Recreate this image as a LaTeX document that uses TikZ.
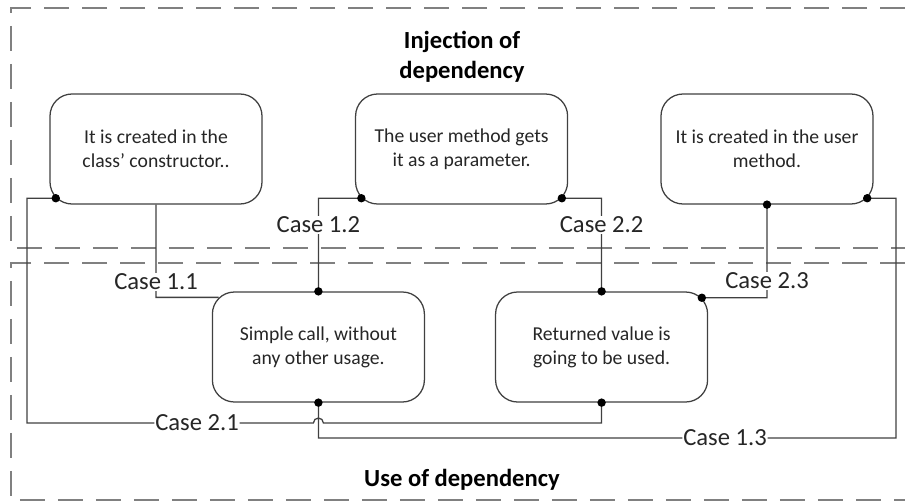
\documentclass[tikz,border=0pt]{standalone}
\usepackage{fontspec}
\setmainfont{Carlito}
\usepackage{tikz}
\usetikzlibrary{calc}
\usepackage{xcolor}
\definecolor{wire}{HTML}{404040}
\definecolor{frame}{HTML}{808080}
\definecolor{ink}{HTML}{262626}

\begin{document}
\begin{tikzpicture}[
    dot/.style={minimum size=6pt,inner sep=0pt,fill=black,circle,node contents={}},
    case/.style={rounded corners=0.55cm,draw=wire,line width=0.9pt,fill=white,minimum width=5.3cm,minimum height=2.75cm,align=center,text=ink,font=\fontsize{14}{17}\selectfont},
    caselabel/.style={inner sep=0.5pt,fill=white,text=ink,font=\fontsize{17.5}{21}\selectfont},
    zone/.style={draw=frame,line width=1.4pt,dash pattern=on 0.625cm off 0.325cm},
    title/.style={align=center,font=\fontsize{17.5}{21}\selectfont\bfseries}]
    \useasboundingbox (0, 0) rectangle (22.625, 12.575);

    % the two zones
    \draw[zone] (22.625, 12.375) -- (0.275, 12.375) -- (0.275, 6.375) -- (22.625, 6.375);
    \draw[zone] (22.625, 6) -- (0.275, 6) -- (0.275, 0.075) -- (22.625, 0.075);
    \node[title] (inj) at (11.55, 11.15) {Injection of\\dependency};
    \node[title] (use) at (11.55, 0.575) {Use of dependency};

    % injection cases
    \node[case] (ctor) at (3.9, 8.85) {It is created in the\\class’ constructor..};
    \node[case] (param) at (11.54, 8.85) {The user method gets\\it as a parameter.};
    \node[case] (local) at (19.175, 8.85) {It is created in the user\\method.};

    % use cases
    \node[case] (call) at (7.96, 3.9) {Simple call, without\\any other usage.};
    \node[case] (ret) at (15.04, 3.9) {Returned value is\\going to be used.};

    \coordinate (ctor_sw) at ($(ctor.south west) + (0.16, 0.16)$);
    \coordinate (param_sw) at ($(param.south west) + (0.16, 0.16)$);
    \coordinate (param_se) at ($(param.south east) + (-0.16, 0.16)$);
    \coordinate (local_se) at ($(local.south east) + (-0.16, 0.16)$);
    \coordinate (call_nw) at ($(call.north west) + (0.17, -0.15)$);
    \coordinate (ret_ne) at ($(ret.north east) + (-0.16, -0.16)$);
    \coordinate (bend21) at (0.675, 2.0);
    \coordinate (bend13) at (22.4, 1.625);

    \node[caselabel] (c11) at (3.9, 5.525) {Case 1.1};
    \node[caselabel] (c12) at (7.96, 6.95) {Case 1.2};
    \node[caselabel] (c13) at (18.125, 1.625) {Case 1.3};
    \node[caselabel] (c21) at (4.925, 2.0) {Case 2.1};
    \node[caselabel] (c22) at (15.04, 6.95) {Case 2.2};
    \node[caselabel] (c23) at (19.175, 5.55) {Case 2.3};

    \draw[wire, line width=0.9pt]
    (ctor.south) -- (c11) (c11) |- (call_nw)
    (param_sw) -| (c12) (c12) -- (call.north)
    (call.south) |- (c13) (c13) -- (bend13) |- (local_se)
    (ctor_sw) -| (bend21) -- (c21)
    (c21) -- ($(call.south |- c21) + (-0.125, 0)$) arc[start angle=180, end angle=0, radius=0.125] -| (ret.south)
    (param_se) -| (c22) (c22) -- (ret.north)
    (local.south) -- (c23) (c23) |- (ret_ne);

    \path (ctor_sw) node[dot] {} (param_sw) node[dot] {} (param_se) node[dot] {}
    (local.south) node[dot] {} (local_se) node[dot] {} (call.north) node[dot] {}
    (call.south) node[dot] {} (ret.north) node[dot] {} (ret.south) node[dot] {}
    (ret_ne) node[dot] {};

\end{tikzpicture}
\end{document}
